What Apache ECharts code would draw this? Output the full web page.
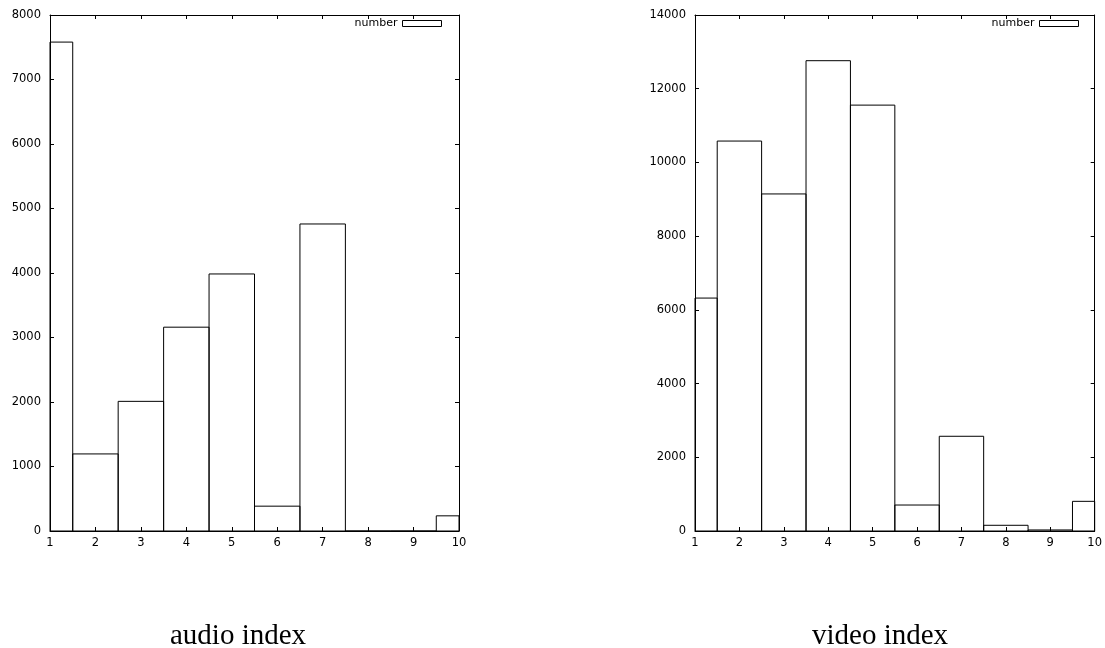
<!DOCTYPE html>
<html>
<head>
<meta charset="utf-8">
<script src="https://cdn.jsdelivr.net/npm/echarts@6/dist/echarts.min.js"></script>
<style>
html,body{margin:0;padding:0;background:#fff;}
#chart{width:1105px;height:648px;}
</style>
</head>
<body>
<div id="chart"></div>
<script>
// ---- data ----
var indexes = [1, 2, 3, 4, 5, 6, 7, 8, 9, 10];
var audioCounts = [7580, 1195, 2010, 3160, 3985, 385, 4760, 0, 0, 235];
var videoCounts = [6320, 10580, 9145, 12760, 11555, 705, 2570, 155, 28, 805];
var audioTitle = 'audio index';
var videoTitle = 'video index';
var seriesName = 'number';
var audioYMax = 8000, audioYStep = 1000;
var videoYMax = 14000, videoYStep = 2000;
var xMin = 1, xMax = 10, xStep = 1;

var chart = echarts.init(document.getElementById('chart'), null, {renderer: 'canvas'});

var tickFont = {fontFamily: 'DejaVu Sans', fontSize: 11.5, color: '#000',
  formatter: function (v) { return String(v); }};
var lineStyle = {color: '#000', width: 1};

function pairs(vals) {
  return indexes.map(function (x, i) { return [x, vals[i]]; });
}

function renderBar(params, api) {
  var x = api.value(0), v = api.value(1);
  var p0 = api.coord([x - 0.5, v]);
  var p1 = api.coord([x + 0.5, 0]);
  var cs = params.coordSys;
  var rect = echarts.graphic.clipRectByRect(
    {x: p0[0], y: p0[1], width: p1[0] - p0[0], height: p1[1] - p0[1]},
    {x: cs.x, y: cs.y, width: cs.width, height: cs.height}
  );
  if (!rect) return null;
  return {
    type: 'rect',
    shape: rect,
    style: {fill: 'none', stroke: '#000', lineWidth: 1}
  };
}

function xAxes(gridIndex) {
  return [
    {
      type: 'value', gridIndex: gridIndex, position: 'bottom',
      min: xMin, max: xMax, interval: xStep,
      axisLine: {show: true, onZero: false, lineStyle: lineStyle},
      axisTick: {show: true, inside: true, length: 4, lineStyle: lineStyle},
      axisLabel: Object.assign({margin: 6}, tickFont),
      splitLine: {show: false}
    },
    {
      type: 'value', gridIndex: gridIndex, position: 'top',
      min: xMin, max: xMax, interval: xStep,
      axisLine: {show: true, onZero: false, lineStyle: lineStyle},
      axisTick: {show: true, inside: true, length: 4, lineStyle: lineStyle},
      axisLabel: {show: false},
      splitLine: {show: false}
    }
  ];
}

function yAxes(gridIndex, max, step) {
  return [
    {
      type: 'value', gridIndex: gridIndex, position: 'left',
      min: 0, max: max, interval: step,
      axisLine: {show: true, onZero: false, lineStyle: lineStyle},
      axisTick: {show: true, inside: true, length: 4, lineStyle: lineStyle},
      axisLabel: Object.assign({margin: 9}, tickFont),
      splitLine: {show: false}
    },
    {
      type: 'value', gridIndex: gridIndex, position: 'right',
      min: 0, max: max, interval: step,
      axisLine: {show: true, onZero: false, lineStyle: lineStyle},
      axisTick: {show: true, inside: true, length: 4, lineStyle: lineStyle},
      axisLabel: {show: false},
      splitLine: {show: false}
    }
  ];
}

function legend(right) {
  return {
    data: [seriesName],
    right: right, top: 18,
    padding: 0,
    orient: 'horizontal',
    align: 'right',
    icon: 'rect',
    itemWidth: 39, itemHeight: 6,
    selectedMode: false,
    itemStyle: {color: 'transparent', borderColor: '#000', borderWidth: 1},
    textStyle: {fontFamily: 'DejaVu Sans', fontSize: 11, color: '#000'}
  };
}

var option = {
  backgroundColor: '#fff',
  animation: false,
  grid: [
    {left: 50, right: 646, top: 15, bottom: 117},
    {left: 695, right: 10, top: 15, bottom: 117}
  ],
  xAxis: xAxes(0).concat(xAxes(1)),
  yAxis: yAxes(0, audioYMax, audioYStep).concat(yAxes(1, videoYMax, videoYStep)),
  legend: [legend(663), legend(26)],
  series: [
    {
      name: seriesName, type: 'custom', xAxisIndex: 0, yAxisIndex: 0,
      renderItem: renderBar, encode: {x: 0, y: 1},
      itemStyle: {color: 'transparent', borderColor: '#000', borderWidth: 1},
      data: pairs(audioCounts)
    },
    {
      name: seriesName, type: 'custom', xAxisIndex: 2, yAxisIndex: 2,
      renderItem: renderBar, encode: {x: 0, y: 1},
      itemStyle: {color: 'transparent', borderColor: '#000', borderWidth: 1},
      data: pairs(videoCounts)
    }
  ],
  graphic: [
    {
      type: 'text', x: 238, y: 636,
      style: {text: audioTitle, align: 'center', verticalAlign: 'middle',
        font: '29px "Liberation Serif"', fill: '#000'}
    },
    {
      type: 'text', x: 880, y: 636,
      style: {text: videoTitle, align: 'center', verticalAlign: 'middle',
        font: '29px "Liberation Serif"', fill: '#000'}
    }
  ]
};
chart.setOption(option);
</script>
</body>
</html>
